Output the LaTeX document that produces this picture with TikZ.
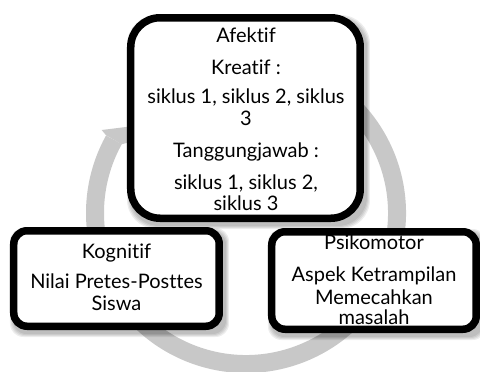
\documentclass[tikz,border=0pt]{standalone}
\usepackage{fontspec}
\setmainfont{Lato}[Ligatures=NoCommon,RawFeature={-liga;-dlig}]
\usetikzlibrary{calc,backgrounds}
\definecolor{ringcol}{RGB}{200,200,200}
\begin{document}
\begin{tikzpicture}[x=0.75pt,y=-0.75pt,
  box/.style={draw=black, fill=white, line width=5.625pt, inner sep=0pt},
  lbl/.style={inner sep=0pt, anchor=base, font=\fontsize{15}{18}\selectfont},
]
\useasboundingbox (0,0) rectangle (480,372);
% boxes
\node[box, minimum width=172.125pt, minimum height=150.375pt, rounded corners=22pt] (afektif) at (245.5,118) {};
\node[box, minimum width=154.125pt, minimum height=71.625pt, rounded corners=10pt] (kognitif) at (116.5,278.5) {};
\node[box, minimum width=153.375pt, minimum height=73.125pt, rounded corners=10pt] (psiko) at (374,280.5) {};
% texts
\node[lbl] (af1) at (246,42) {Afektif};
\node[lbl] (af2) at (246,74) {Kreatif :};
\node[lbl] (af3) at (246,103) {siklus 1, siklus 2, siklus};
\node[lbl] (af4) at (246,125) {3};
\node[lbl] (af5) at (246,157) {Tanggungjawab :};
\node[lbl] (af6) at (246,189) {siklus 1, siklus 2,};
\node[lbl] (af7) at (246,210) {siklus 3};
\node[lbl] (kg1) at (116.5,258) {Kognitif};
\node[lbl] (kg2) at (116.5,288) {Nilai Pretes-Posttes};
\node[lbl] (kg3) at (116.5,310) {Siswa};
\node[lbl] (ps1) at (374,249.5) {Psikomotor};
\node[lbl] (ps2) at (374,281) {Aspek Ketrampilan};
\node[lbl] (ps3) at (374,304) {Memecahkan};
\node[lbl] (ps4) at (374,324) {masalah};
\begin{pgfonlayer}{background}
\draw[ringcol, line width=13.5pt] (246,213) ++(-70:151) arc[start angle=-70, end angle=209, radius=151];
\fill[ringcol] (106.1,135.4) -- (101.7,130) -- (150,124) -- (135,141) -- (121.8,144.2) -- cycle;
\foreach \n/\r in {afektif/22pt, kognitif/10pt, psiko/10pt}{
  \foreach \k in {0,1,2,3}{
    \fill[black, opacity=0.07, rounded corners=\r] ($(\n.north west)+(3-\k,4-\k)$) rectangle ($(\n.south east)+(3+\k,4+\k)$);
  }
}
\end{pgfonlayer}
\end{tikzpicture}
\end{document}
